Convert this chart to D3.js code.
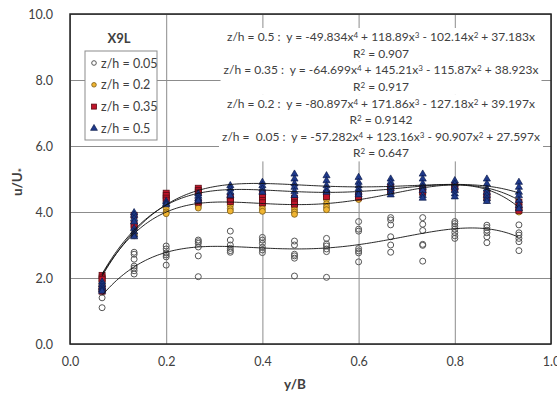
<!DOCTYPE html>
<html>
<head>
<meta charset="utf-8">
<script src="https://cdn.jsdelivr.net/npm/d3@7"></script>
<style>
  body { margin: 0; background: #fff; }
  text { font-family: Lato, "Open Sans", sans-serif; fill: #404040; }
</style>
</head>
<body>
<script>
// ---------------------------------------------------------------
// DATA
// ---------------------------------------------------------------
var colX = [0.0667, 0.1333, 0.2, 0.2667, 0.3333, 0.4, 0.4667, 0.5333, 0.6, 0.6667, 0.7333, 0.8, 0.8667, 0.9333]

// one list of readings per column, for each z/h level
var z005 = [
  [1.4, 1.1, 1.6, 1.75],
  [2.78, 2.72, 2.57, 2.36, 2.3, 2.22, 2.12],
  [2.97, 2.88, 2.76, 2.7, 2.64, 2.39],
  [3.15, 3.1, 3.05, 2.94, 2.67, 2.04],
  [3.42, 3.15, 3.0, 2.9, 2.83, 2.78],
  [3.23, 3.15, 3.05, 2.93, 2.85, 2.77],
  [3.12, 3.0, 2.72, 2.67, 2.6, 2.06],
  [3.2, 3.03, 2.97, 2.88, 2.8, 2.02],
  [3.71, 3.48, 3.42, 2.89, 2.82, 2.76, 2.49],
  [3.83, 3.76, 3.61, 3.25, 3.0, 2.78],
  [3.83, 3.63, 3.44, 3.02, 2.99, 2.51],
  [3.71, 3.65, 3.57, 3.48, 3.38, 3.28, 3.2],
  [3.6, 3.53, 3.45, 3.37, 3.25, 3.07],
  [3.61, 3.37, 3.3, 3.2, 3.1, 2.83]
]
var z02 = [
  [1.9, 1.8, 1.7, 1.65],
  [3.35, 3.3, 3.28],
  [4.1, 4.0, 3.95],
  [4.25, 4.18, 4.12],
  [4.28, 4.2, 4.1, 4.03],
  [4.2, 4.1, 4.02],
  [4.18, 4.08, 4.0, 3.93],
  [4.38, 4.25, 4.15, 4.07],
  [4.42, 4.38],
  [4.7, 4.6],
  [4.65, 4.55],
  [4.8, 4.7],
  [4.4, 4.35],
  [4.05, 4.0]
]
var z035 = [
  [2.08, 2.0, 1.95, 1.7, 1.6],
  [3.9, 3.62, 3.56],
  [4.57, 4.5, 4.42, 4.36],
  [4.72, 4.65, 4.6, 4.3],
  [4.45, 4.38, 4.32],
  [4.55, 4.45, 4.35, 4.28],
  [4.42, 4.35, 4.28, 4.24],
  [4.55, 4.47],
  [4.5, 4.45],
  [4.75, 4.65],
  [4.7, 4.6],
  [4.8, 4.7],
  [4.55, 4.45],
  [4.3, 4.15, 4.05]
]
var z05 = [
  [1.88, 1.8, 1.72, 1.65, 1.6],
  [3.98, 3.9, 3.8, 3.7, 3.5, 3.4, 3.3, 3.25],
  [4.32, 4.26, 4.22],
  [4.55, 4.48, 4.4, 4.34],
  [4.8, 4.7, 4.6, 4.5],
  [4.9, 4.8, 4.7, 4.6],
  [5.15, 5.0, 4.85, 4.75, 4.62, 4.5],
  [5.1, 4.95, 4.8, 4.68, 4.6],
  [5.05, 4.9, 4.8, 4.7, 4.6, 4.52],
  [5.0, 4.9, 4.8, 4.7, 4.6, 4.52],
  [5.15, 5.0, 4.85, 4.75, 4.65, 4.5, 4.42],
  [4.95, 4.85, 4.75, 4.65, 4.55, 4.46],
  [5.0, 4.85, 4.7, 4.6, 4.5, 4.4, 4.32],
  [4.9, 4.75, 4.6, 4.5, 4.35, 4.2, 4.1]
]

var seriesNames = ["z/h = 0.05", "z/h = 0.2", "z/h = 0.35", "z/h = 0.5"]

// trendlines (4th order, through origin), top to bottom as printed
var fitNames = ["z/h = 0.5 :\u00a0\u00a0", "z/h = 0.35 :\u00a0\u00a0", "z/h = 0.2 :\u00a0\u00a0", "z/h =\u00a0\u00a00.05 :\u00a0\u00a0"]
var fitCoef = [
  [-49.834, 118.89, -102.14, 37.183],
  [-64.699, 145.21, -115.87, 38.923],
  [-80.897, 171.86, -127.18, 39.197],
  [-57.282, 123.16, -90.907, 27.597]
]
var fitR2 = ["0.907", "0.917", "0.9142", "0.647"]

var yTicks = [0, 2, 4, 6, 8, 10]
var xTicks = [0, 0.2, 0.4, 0.6, 0.8, 1.0]

// ---------------------------------------------------------------
// SETUP
// ---------------------------------------------------------------
var W = 557, H = 396
var pL = 70, pR = 551, pT = 14, pB = 344

var svg = d3.select("body").append("svg")
    .attr("width", W)
    .attr("height", H)

var x = d3.scaleLinear().domain([0, 1]).range([pL, pR])
var y = d3.scaleLinear().domain([0, 10]).range([pB, pT])

// gridlines
svg.append("g")
    .attr("transform", "translate(0," + pB + ")")
    .call(d3.axisBottom(x).tickValues(xTicks).tickSize(-(pB - pT)).tickFormat(""))
    .call(function (g) {
      g.select(".domain").remove()
      g.selectAll("line").attr("stroke", "#8c8c8c").attr("stroke-width", 1)
    })
svg.append("g")
    .attr("transform", "translate(" + pL + ",0)")
    .call(d3.axisLeft(y).tickValues(yTicks).tickSize(-(pR - pL)).tickFormat(""))
    .call(function (g) {
      g.select(".domain").remove()
      g.selectAll("line").attr("stroke", "#8c8c8c").attr("stroke-width", 1)
    })

// tick labels
svg.append("g")
    .attr("transform", "translate(0," + pB + ")")
    .call(d3.axisBottom(x).tickValues(xTicks).tickSize(0).tickPadding(13).tickFormat(d3.format(".1f")))
    .call(function (g) {
      g.select(".domain").remove()
      g.selectAll("text").style("font-size", "12.5px").style("font-family", "Lato").attr("fill", "#404040")
    })
svg.append("g")
    .attr("transform", "translate(" + pL + ",0)")
    .call(d3.axisLeft(y).tickValues(yTicks).tickSize(0).tickPadding(17).tickFormat(d3.format(".1f")))
    .call(function (g) {
      g.select(".domain").remove()
      g.selectAll("text").style("font-size", "12.5px").style("font-family", "Lato").attr("fill", "#404040")
    })

// ---------------------------------------------------------------
// EQUATION LABELS
// ---------------------------------------------------------------
var fmtTerm = function (c, p, first) {
  var s = Math.abs(c).toString()
  var sign = c < 0 ? (first ? "-" : " - ") : (first ? "" : " + ")
  return { txt: sign + s + "x", pow: p > 1 ? String(p) : null }
}

var eqG = svg.append("g")
fitCoef.forEach(function (coef, i) {
  var g = eqG.append("g")
  var cy = 41 + i * 33.3
  var t = g.append("text")
      .attr("x", 381).attr("y", cy)
      .attr("text-anchor", "middle")
      .style("font-size", "12px")
  t.append("tspan").text(fitNames[i] + "y = ")
  coef.forEach(function (c, k) {
    var term = fmtTerm(c, 4 - k, k == 0)
    t.append("tspan").attr("dy", k == 0 ? 0 : 3).text(term.txt)
    if (term.pow) t.append("tspan").attr("dy", -3).style("font-size", "8px").text(term.pow)
  })
  var r = g.append("text")
      .attr("x", 381).attr("y", cy + 16.5)
      .attr("text-anchor", "middle")
      .style("font-size", "12px")
  r.append("tspan").text("R")
  r.append("tspan").attr("dy", -3).style("font-size", "8px").text("2")
  r.append("tspan").attr("dy", 3).text(" = " + fitR2[i])

  var b1 = t.node().getBBox(), b2 = r.node().getBBox()
  var bx = Math.min(b1.x, b2.x) - 3, bw = Math.max(b1.x + b1.width, b2.x + b2.width) - bx + 3
  g.insert("rect", "text")
      .attr("x", bx).attr("y", b1.y - 1)
      .attr("width", bw).attr("height", b2.y + b2.height - b1.y + 2)
      .attr("fill", "#fff")
})

// ---------------------------------------------------------------
// POINTS
// ---------------------------------------------------------------
var flat = function (cols) {
  var out = []
  cols.forEach(function (vals, i) {
    vals.forEach(function (v) { out.push([colX[i], v]) })
  })
  return out
}

var plot = svg.append("g")

plot.selectAll(".p005").data(flat(z005)).enter().append("circle")
    .attr("cx", function (d) { return x(d[0]) })
    .attr("cy", function (d) { return y(d[1]) })
    .attr("r", 3)
    .attr("fill", "none")
    .attr("stroke", "#555")
    .attr("stroke-width", 1)

plot.selectAll(".p02").data(flat(z02)).enter().append("circle")
    .attr("cx", function (d) { return x(d[0]) })
    .attr("cy", function (d) { return y(d[1]) })
    .attr("r", 3)
    .attr("fill", "#f0b431")
    .attr("stroke", "#7a5a14")
    .attr("stroke-width", 0.8)

plot.selectAll(".p035").data(flat(z035)).enter().append("rect")
    .attr("x", function (d) { return x(d[0]) - 3 })
    .attr("y", function (d) { return y(d[1]) - 3 })
    .attr("width", 6).attr("height", 6)
    .attr("fill", "#c0152a")
    .attr("stroke", "#5c0d14")
    .attr("stroke-width", 0.8)

var tri = d3.symbol().type(d3.symbolTriangle).size(22)
plot.selectAll(".p05").data(flat(z05)).enter().append("path")
    .attr("d", tri)
    .attr("transform", function (d) { return "translate(" + x(d[0]) + "," + y(d[1]) + ")" })
    .attr("fill", "#1f3a8c")
    .attr("stroke", "#0c1a4a")
    .attr("stroke-width", 0.7)

// ---------------------------------------------------------------
// TRENDLINES
// ---------------------------------------------------------------
var poly = function (c, t) {
  return c[0] * Math.pow(t, 4) + c[1] * Math.pow(t, 3) + c[2] * t * t + c[3] * t
}
var xs = d3.range(colX[0], colX[colX.length - 1] + 1e-9, 0.005)
var line = d3.line()
    .x(function (d) { return x(d[0]) })
    .y(function (d) { return y(d[1]) })
    .curve(d3.curveMonotoneX)

fitCoef.forEach(function (c) {
  svg.append("path")
      .attr("d", line(xs.map(function (t) { return [t, poly(c, t)] })))
      .attr("fill", "none")
      .attr("stroke", "#111")
      .attr("stroke-width", 0.9)
})

// plot border
svg.append("rect")
    .attr("x", pL).attr("y", pT)
    .attr("width", pR - pL).attr("height", pB - pT)
    .attr("fill", "none")
    .attr("stroke", "#222")
    .attr("stroke-width", 1.5)

// ---------------------------------------------------------------
// LEGEND + TITLES
// ---------------------------------------------------------------
svg.append("text")
    .attr("x", 119).attr("y", 43)
    .attr("text-anchor", "middle")
    .style("font-size", "13px").style("font-weight", "bold")
    .attr("fill", "#222")
    .text("X9L")

var lg = svg.append("g")
lg.append("rect")
    .attr("x", 85).attr("y", 51).attr("width", 72).attr("height", 89)
    .attr("fill", "#fff").attr("stroke", "#8c8c8c")

seriesNames.forEach(function (name, i) {
  var cy = 63 + i * 21.8
  if (i == 0) lg.append("circle").attr("cx", 94).attr("cy", cy).attr("r", 2.3).attr("fill", "none").attr("stroke", "#555")
  if (i == 1) lg.append("circle").attr("cx", 94).attr("cy", cy).attr("r", 2.3).attr("fill", "#f0b431").attr("stroke", "#7a5a14").attr("stroke-width", 0.8)
  if (i == 2) lg.append("rect").attr("x", 91.5).attr("y", cy - 2.5).attr("width", 5).attr("height", 5).attr("fill", "#c0152a").attr("stroke", "#5c0d14").attr("stroke-width", 0.8)
  if (i == 3) lg.append("path").attr("d", d3.symbol().type(d3.symbolTriangle).size(20)).attr("transform", "translate(94," + cy + ")").attr("fill", "#1f3a8c").attr("stroke", "#0c1a4a").attr("stroke-width", 0.7)
  lg.append("text")
      .attr("x", 101).attr("y", cy + 4.5)
      .style("font-size", "12.5px")
      .text(name)
})

var yt = svg.append("text")
    .attr("transform", "translate(22,182) rotate(-90)")
    .attr("text-anchor", "middle")
    .style("font-size", "13.5px").style("font-weight", "bold")
    .attr("fill", "#333")
yt.append("tspan").text("u/U")
yt.append("tspan").attr("dy", 3).style("font-size", "10px").text("*")

svg.append("text")
    .attr("x", 295).attr("y", 389)
    .attr("text-anchor", "middle")
    .style("font-size", "13.5px").style("font-weight", "bold")
    .attr("fill", "#333")
    .text("y/B")
</script>
</body>
</html>
